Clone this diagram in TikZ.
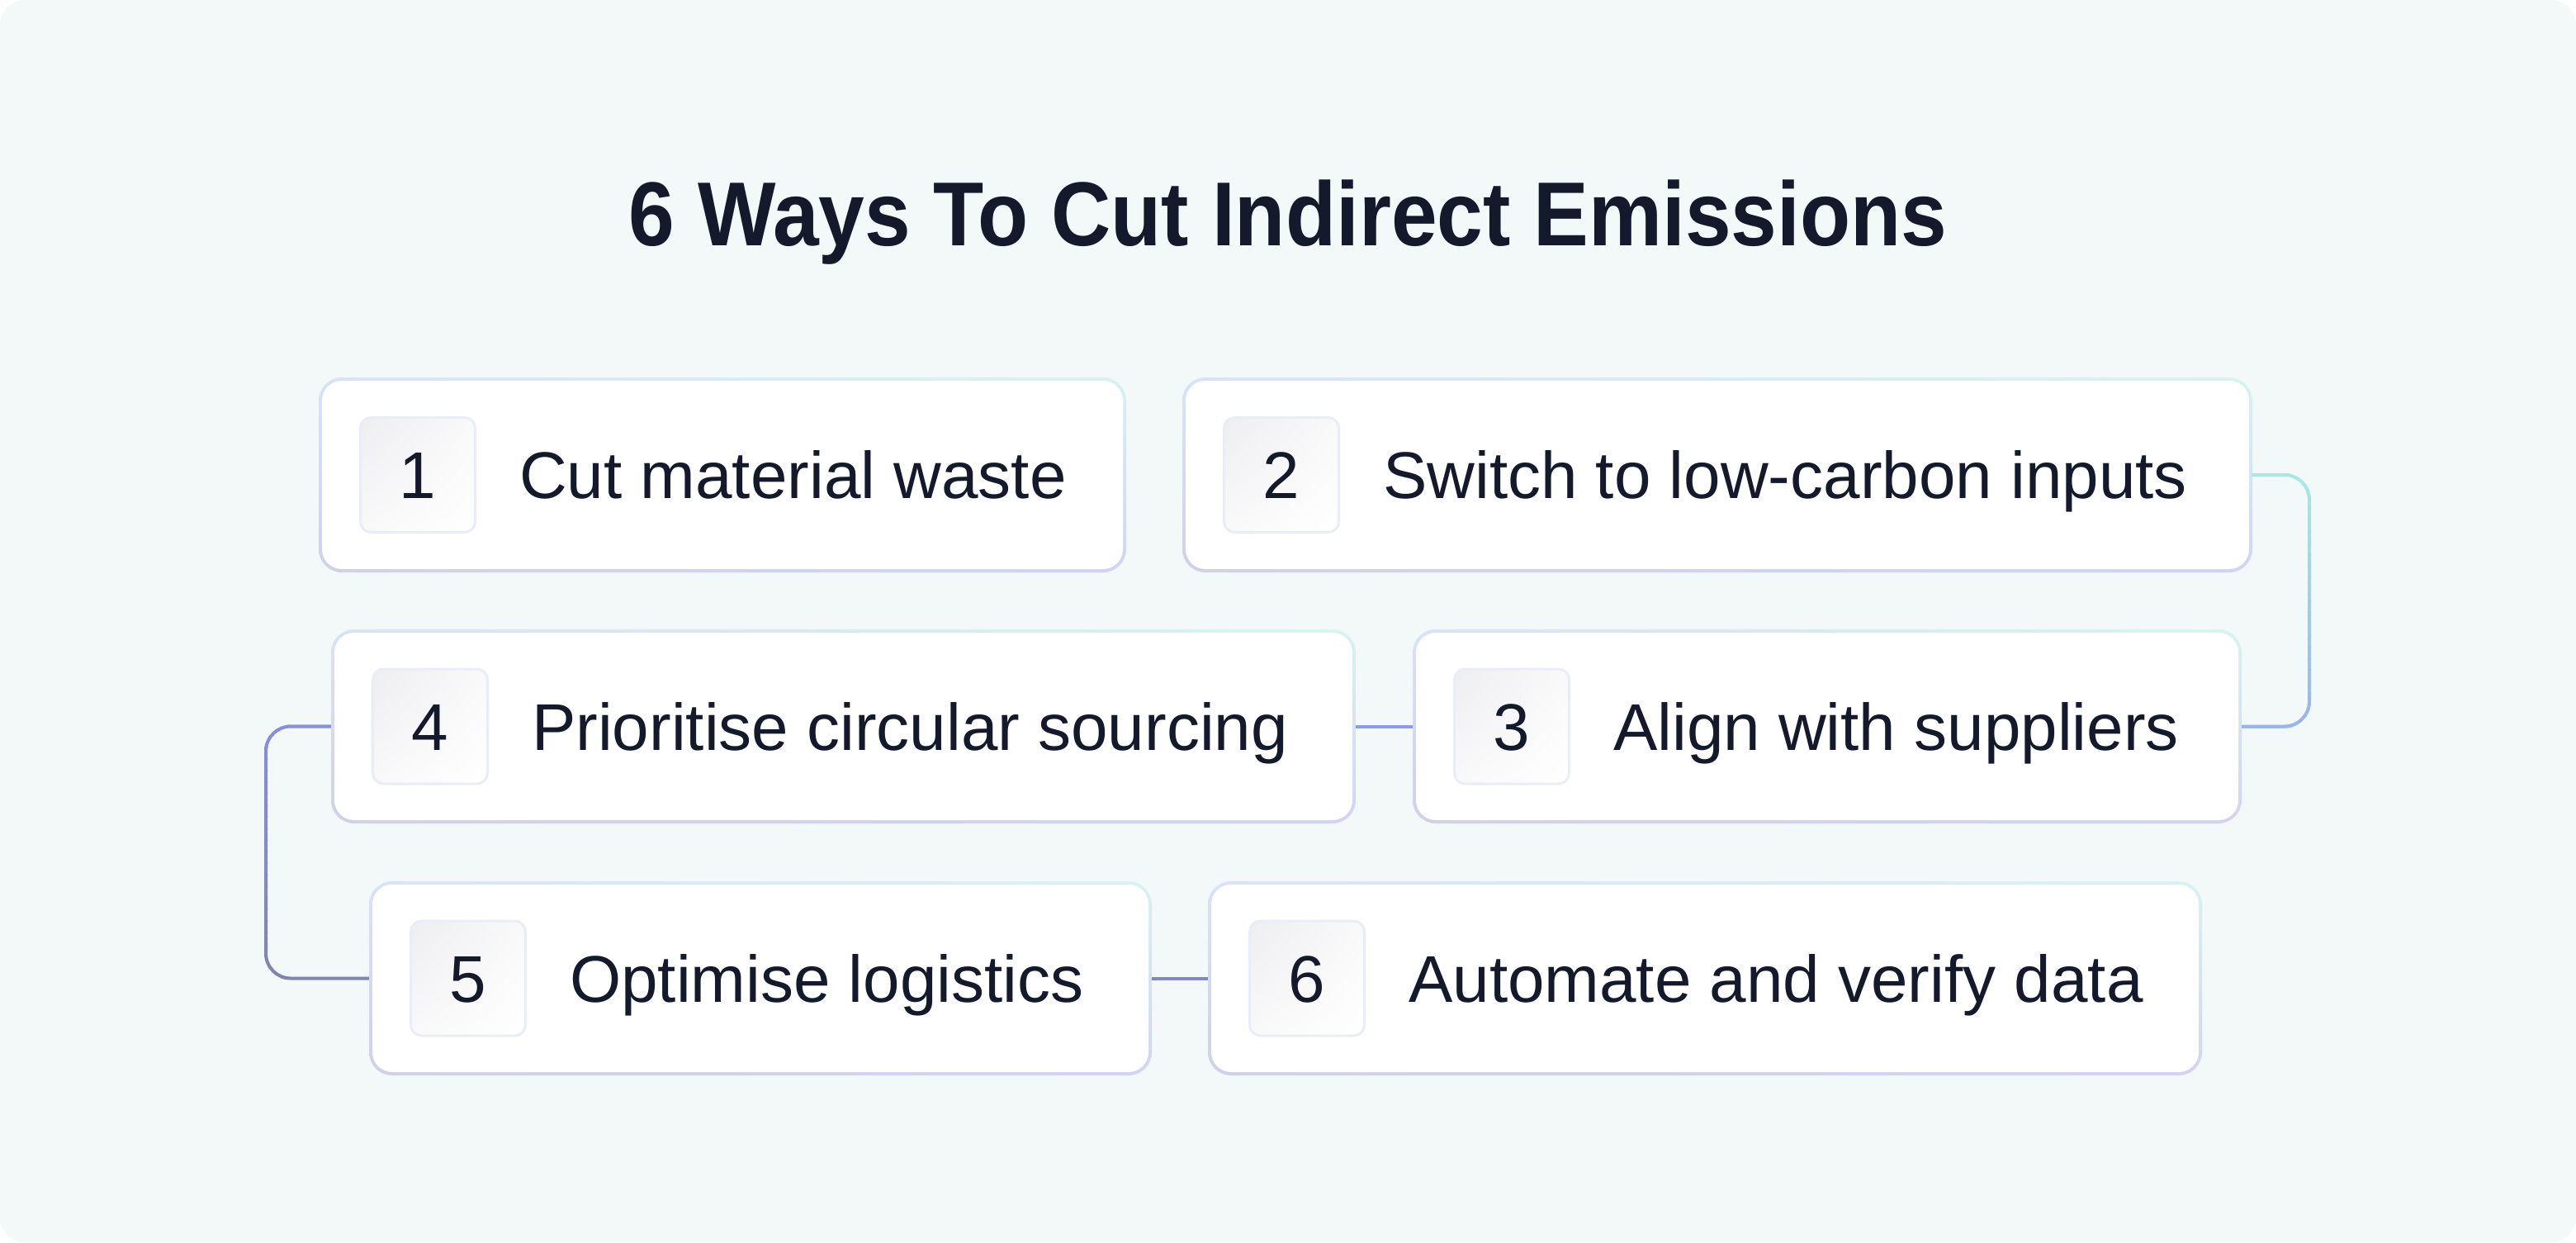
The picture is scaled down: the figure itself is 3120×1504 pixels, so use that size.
\documentclass[tikz,border=0pt]{standalone}
\usepackage{fontspec}
\setmainfont{Liberation Sans}
\usetikzlibrary{calc,shadings}
\definecolor{pagebg}{HTML}{F3F8F8}
\definecolor{ink}{HTML}{141A2B}
\definecolor{ringUL}{HTML}{D9E3F8}
\definecolor{ringUR}{HTML}{D6F4F0}
\definecolor{ringLL}{HTML}{CFD1E7}
\definecolor{ringLR}{HTML}{D2D3F3}
\definecolor{numedge}{HTML}{E8EDF8}
\definecolor{numUL}{HTML}{EEEEF1}
\definecolor{numMID}{HTML}{F9F9FA}
\definecolor{tealA}{HTML}{A8ECE1}
\definecolor{blueA}{HTML}{96B4EE}
\definecolor{periA}{HTML}{8A9CEE}
\definecolor{periB}{HTML}{8690E0}
\definecolor{slateB}{HTML}{7F85AE}
\definecolor{slateC}{HTML}{8088C6}
\newcommand\bodyfont{\fontsize{80pt}{96pt}\selectfont}
\newcommand\titlefont{\fontsize{110pt}{130pt}\selectfont\bfseries}
\tikzset{
  cardring/.style={rounded corners=28pt, upper left=ringUL, upper right=ringUR, lower left=ringLL, lower right=ringLR},
  cardbody/.style={rectangle, rounded corners=24pt, fill=white, draw=none, inner sep=0pt},
  numbox/.style={rectangle, rounded corners=13pt, draw=numedge, line width=3pt,
    upper left=numUL, upper right=numMID, lower left=numMID, lower right=white,
    minimum size=139pt, inner sep=0pt, text height=57pt, text depth=0pt, font=\bodyfont, text=ink},
  cardtext/.style={anchor=west, inner sep=0pt, text height=57pt, text depth=0pt, font=\bodyfont, text=ink},
  conn/.style={line width=4pt, rounded corners=30pt},
}
\newcommand\card[7]{%
  \shade[cardring] (#2,#3) rectangle (#4,#5);
  \node[cardbody, minimum width={#4-#2-8}, minimum height={#5-#3-8}] (#1) at ({(#2+#4)/2},{(#3+#5)/2}) {};
  \node[numbox] (#1n) at ({#2+120},{(#3+#5)/2}) {#6};
  \node[cardtext] (#1t) at ({#2+243},{(#3+#5)/2}) {#7};
}
\begin{document}
\begin{tikzpicture}[x=1pt,y=-1pt]
\useasboundingbox (0,0) rectangle (3120,1504);
\fill[white] (0,0) rectangle (3120,1504);
\fill[pagebg, rounded corners=30pt] (0,0) rectangle (3120,1504);

\node[font=\titlefont, text=ink, anchor=base, inner sep=0pt] (title) at (1560,297)
  {\scalebox{0.91}[1]{6 Ways To Cut Indirect Emissions}};

\card{b1}{386}{457}{1364}{693}{1}{Cut material waste}
\card{b2}{1432}{457}{2728}{693}{2}{Switch to low-carbon inputs}
\card{b3}{1711}{762}{2715}{997}{3}{Align with suppliers}
\card{b4}{401}{762}{1642}{997}{4}{Prioritise circular sourcing}
\card{b5}{447}{1067}{1395}{1302}{5}{Optimise logistics}
\card{b6}{1463}{1067}{2667}{1302}{6}{Automate and verify data}

\coordinate (r23) at (2797,0);
\coordinate (l45) at (322,0);

\foreach \i in {0,...,23} {
  \pgfmathtruncatemacro\p{100-\i*100/23}
  \begin{scope}
    \clip (2690,{558+\i*14}) rectangle (2830,{558+(\i+1)*14+1});
    \draw[conn, draw=tealA!\p!blueA] ([xshift=4pt]b2.east) -- (r23 |- b2.east) -- (r23 |- b3.east) -- ([xshift=4pt]b3.east);
  \end{scope}
}
\foreach \i in {0,...,23} {
  \pgfmathtruncatemacro\p{100-\i*100/23}
  \begin{scope}
    \clip (290,{862+\i*14}) rectangle (460,{862+(\i+1)*14+1});
    \draw[conn, draw=periB!\p!slateB] ([xshift=-4pt]b4.west) -- (l45 |- b4.west) -- (l45 |- b5.west) -- ([xshift=-4pt]b5.west);
  \end{scope}
}
\draw[conn, draw=periA] ([xshift=-4pt]b3.west) -- ([xshift=4pt]b4.east);
\draw[conn, draw=slateC] ([xshift=4pt]b5.east) -- ([xshift=-4pt]b6.west);
\end{tikzpicture}
\end{document}
